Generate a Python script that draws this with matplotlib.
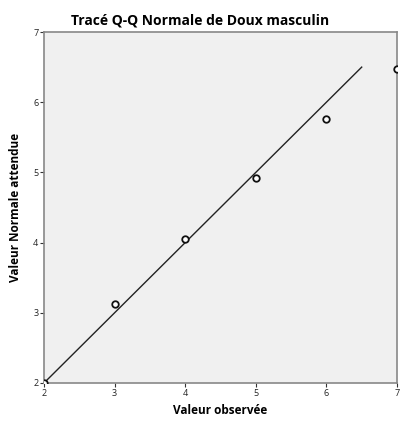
import matplotlib
matplotlib.use("Agg")
import matplotlib.pyplot as plt

observed = [2, 3, 4, 5, 6, 7]
expected = [2.0, 3.12, 4.05, 4.92, 5.76, 6.48]
ref_line_x = [2, 6.5]
ref_line_y = [2, 6.5]
ticks = [2, 3, 4, 5, 6, 7]

plt.rcParams['font.family'] = ['Open Sans', 'DejaVu Sans']

fig = plt.figure(figsize=(4.0, 4.23), dpi=100)
ax = fig.add_axes([0.11, 0.0946, 0.8825, 0.8297])
ax.set_facecolor('#f0f0f0')
ax.plot(ref_line_x, ref_line_y, color='#222222', lw=1.0, zorder=2)
ax.scatter(observed, expected, s=22, facecolors='white', edgecolors='#111111',
           linewidths=1.3, zorder=3, clip_on=True)
ax.set_xlim(2, 7)
ax.set_ylim(2, 7)
ax.set_xticks(ticks)
ax.set_yticks(ticks)
ax.tick_params(labelsize=6.5, length=3, width=0.8, color='#333333', labelcolor='#222222', pad=1)
for s in ax.spines.values():
    s.set_color('#888888')
    s.set_linewidth(1.2)
fig.text(0.5, 0.952, 'Tracé Q-Q Normale de Doux masculin', fontsize=10,
         fontweight='bold', ha='center', va='center')
ax.set_xlabel('Valeur observée', fontsize=8.5, fontweight='bold', labelpad=5)
ax.set_ylabel('Valeur Normale attendue', fontsize=8.5, fontweight='bold', labelpad=8)
fig.savefig('out.png', dpi=100)
